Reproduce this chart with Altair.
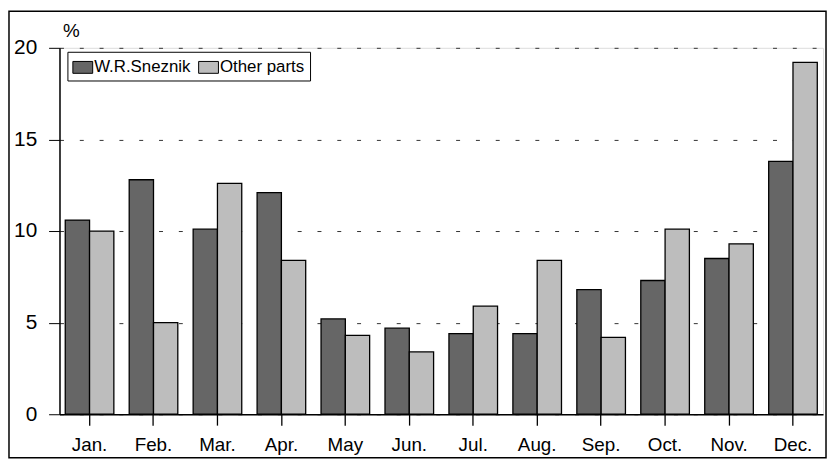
import altair as alt
import pandas as pd

months = ["Jan.", "Feb.", "Mar.", "Apr.", "May", "Jun.", "Jul.", "Aug.", "Sep.", "Oct.", "Nov.", "Dec."]
series_names = ["W.R.Sneznik", "Other parts"]
sneznik = [10.6, 12.8, 10.1, 12.1, 5.2, 4.7, 4.4, 4.4, 6.8, 7.3, 8.5, 13.8]
other = [10.0, 5.0, 12.6, 8.4, 4.3, 3.4, 5.9, 8.4, 4.2, 10.1, 9.3, 19.2]
y_ticks = [0, 5, 10, 15, 20]
colors = ["#666666", "#bdbdbd"]

rows = []
for m, a, b in zip(months, sneznik, other):
    rows.append({"month": m, "series": series_names[0], "value": a})
    rows.append({"month": m, "series": series_names[1], "value": b})
df = pd.DataFrame(rows)

W, H = 771, 370
FONT = "Liberation Sans"

bars = alt.Chart(df).mark_bar(stroke="black", strokeWidth=1.3).encode(
    x=alt.X("month:N", sort=months, title=None,
            scale=alt.Scale(paddingInner=0.24, paddingOuter=0.09),
            axis=alt.Axis(labelAngle=0, ticks=True, tickSize=11, labelPadding=11,
                          labelFontSize=19, labelColor="black", tickColor="black",
                          domainColor="black", domainWidth=1.5, tickWidth=1.3, grid=False,
                          labelFont=FONT)),
    xOffset=alt.XOffset("series:N", sort=series_names),
    y=alt.Y("value:Q", scale=alt.Scale(domain=[0, 20], nice=False),
            axis=alt.Axis(values=y_ticks, tickSize=11, labelPadding=12, labelFontSize=21,
                          labelColor="black", tickColor="black", domainColor="black",
                          domainWidth=1.5, grid=True, gridDash=[4, 16], gridColor="#333333",
                          gridWidth=1, title="%", titleAngle=0, titleX=3, titleY=-11,
                          titleAlign="left", titleBaseline="alphabetic", titleFontSize=19,
                          titleFontWeight="normal", titleColor="black", labelFont=FONT,
                          titleFont=FONT)),
    color=alt.Color("series:N", sort=series_names,
                    scale=alt.Scale(domain=series_names, range=colors),
                    legend=alt.Legend(title=None, orient="none", legendX=8, legendY=4,
                                      direction="horizontal", strokeColor="black",
                                      fillColor="white", padding=5, labelFontSize=17,
                                      labelFont=FONT, labelColor="black", labelOffset=1,
                                      columnPadding=5,
                                      symbolType="M-1,-0.6H1V0.6H-1Z", symbolSize=400,
                                      symbolStrokeColor="black", symbolStrokeWidth=1,
                                      symbolOpacity=1)),
)

frame = alt.Chart(pd.DataFrame({"k": [0]})).mark_rect(
    fill=None, stroke="black", strokeWidth=1.5, clip=False
).encode(
    x=alt.value(-51), x2=alt.value(W + 3), y=alt.value(-37), y2=alt.value(H + 44)
)

chart = alt.layer(bars, frame).properties(
    width=W, height=H,
    autosize=alt.AutoSizeParams(type="none"),
    padding={"left": 52, "top": 38, "right": 4, "bottom": 45},
).configure_view(
    stroke="black", strokeWidth=1.5
).configure(background="white")

chart.save("out.html", embed_options={"renderer": "svg", "actions": False})
